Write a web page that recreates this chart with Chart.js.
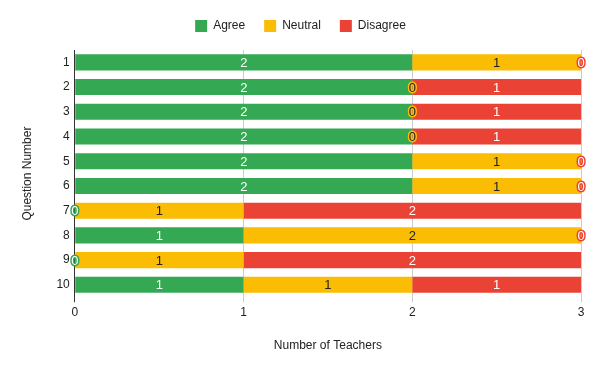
<!DOCTYPE html>
<html>
  <head>
    <title>Teachers - Stacked Bar</title>
    <style>
      body { margin: 0; background: #fff; }
      .chart-container { width: 600px; height: 371px; }
    </style>
  </head>
  <body>
    <div class="chart-container">
      <canvas id="mycanvas" width="600" height="371"></canvas>
    </div>

    <script src="https://cdn.jsdelivr.net/npm/chart.js@4.4.0/dist/chart.umd.min.js"></script>
    <script>
      var questions = ["1", "2", "3", "4", "5", "6", "7", "8", "9", "10"];
      var agree = [2, 2, 2, 2, 2, 2, 0, 1, 0, 1];
      var neutral = [1, 0, 0, 0, 1, 1, 1, 2, 1, 1];
      var disagree = [0, 1, 1, 1, 0, 0, 2, 0, 2, 1];
      var xTicks = [0, 1, 2, 3];

      var fontFamily = "'Liberation Sans', Arial, sans-serif";

      // fixed legend height so the plot starts where it does in the original
      var legendHeight = {
        id: 'legendHeight',
        beforeInit: function(chart) {
          var orig = chart.legend.fit;
          chart.legend.fit = function() {
            orig.call(this);
            this.height = 49;
          };
        }
      };

      // draws the value in the middle of every bar, zeros get a halo in the bar colour
      var barLabels = {
        id: 'barLabels',
        afterDatasetsDraw: function(chart) {
          var ctx = chart.ctx;
          ctx.save();
          ctx.font = "13px " + fontFamily;
          ctx.textAlign = "center";
          ctx.textBaseline = "middle";
          chart.data.datasets.forEach(function(ds, di) {
            var meta = chart.getDatasetMeta(di);
            meta.data.forEach(function(bar, i) {
              var v = ds.data[i];
              var cx = (bar.x + bar.base) / 2;
              var cy = bar.y + 1;
              if (v === 0) {
                ctx.lineWidth = 3;
                ctx.lineJoin = "round";
                ctx.strokeStyle = ds.backgroundColor;
                ctx.strokeText(String(v), cx, cy);
              }
              ctx.fillStyle = ds.labelColor;
              ctx.fillText(String(v), cx, cy);
            });
          });
          ctx.restore();
        }
      };

      var chartdata = {
        labels: questions,
        datasets: [
          {
            label: "Agree",
            backgroundColor: "#34a853",
            labelColor: "#ffffff",
            data: agree
          },
          {
            label: "Neutral",
            backgroundColor: "#fbbc04",
            labelColor: "#222222",
            data: neutral
          },
          {
            label: "Disagree",
            backgroundColor: "#ea4335",
            labelColor: "#ffffff",
            data: disagree
          }
        ]
      };

      var ctx = document.getElementById("mycanvas");

      var BarGraph = new Chart(ctx, {
        type: 'bar',
        data: chartdata,
        plugins: [legendHeight, barLabels],
        options: {
          indexAxis: 'y',
          responsive: false,
          animation: false,
          layout: { padding: { left: 20, right: 19, top: 1, bottom: 18 } },
          datasets: {
            bar: { categoryPercentage: 1, barPercentage: 0.65, borderWidth: 0 }
          },
          plugins: {
            legend: {
              position: 'top',
              labels: {
                boxWidth: 12,
                boxHeight: 12,
                padding: 19,
                color: "#222",
                font: { family: fontFamily, size: 12 }
              }
            },
            tooltip: { enabled: false }
          },
          scales: {
            x: {
              stacked: true,
              min: 0,
              max: 3,
              afterBuildTicks: function(axis) {
                axis.ticks = xTicks.map(function(v) { return { value: v }; });
              },
              grid: {
                color: function(c) { return c.index === 0 ? "#333" : "#cccccc"; },
                tickLength: 5
              },
              border: { display: false },
              ticks: { color: "#222", padding: 3, font: { family: fontFamily, size: 12 } },
              title: {
                display: true,
                text: "Number of Teachers",
                color: "#222",
                padding: { top: 16, bottom: 0 },
                font: { family: fontFamily, size: 12 }
              }
            },
            y: {
              stacked: true,
              grid: { display: false, drawTicks: false },
              border: { display: true, color: "#333", width: 1 },
              ticks: { color: "#222", padding: 5, font: { family: fontFamily, size: 12 } },
              title: {
                display: true,
                text: "Question Number",
                color: "#222",
                padding: { top: 0, bottom: 17 },
                font: { family: fontFamily, size: 12 }
              }
            }
          }
        }
      });
    </script>
  </body>
</html>
